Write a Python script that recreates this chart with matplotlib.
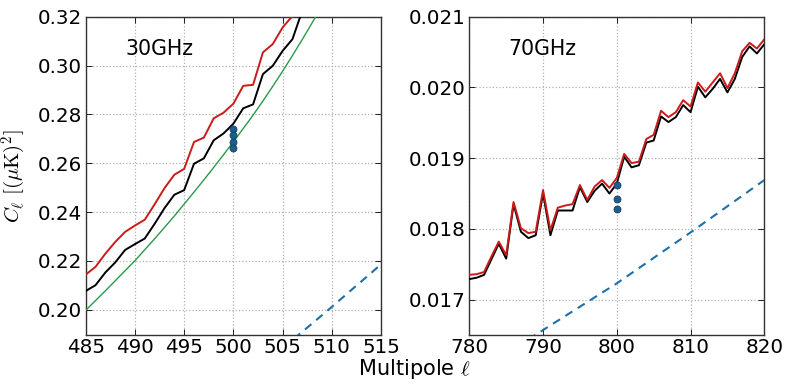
import matplotlib
matplotlib.use("Agg")
import matplotlib.pyplot as plt

# ---- data: 30 GHz panel ----
ell_30 = [485, 486, 487, 488, 489, 490, 491, 492, 493, 494, 495, 496, 497, 498,
          499, 500, 501, 502, 503, 504, 505, 506, 507, 508]
red_30 = [0.2144, 0.2176, 0.2230, 0.2278, 0.2319, 0.2345, 0.2369, 0.2432, 0.2498,
          0.2553, 0.2577, 0.2687, 0.2705, 0.2784, 0.2807, 0.2844, 0.2917, 0.2921,
          0.3054, 0.3088, 0.3156, 0.3203, 0.3260, 0.3300]
black_30 = [0.2077, 0.2101, 0.2153, 0.2194, 0.2245, 0.2269, 0.2292, 0.2352, 0.2416,
            0.2471, 0.2490, 0.2598, 0.2620, 0.2694, 0.2722, 0.2762, 0.2825, 0.2841,
            0.2965, 0.2999, 0.3060, 0.3108, 0.3225, 0.3300]
ell_30_theory = [485, 486, 487, 488, 489, 490, 491, 492, 493, 494, 495, 496, 497,
                 498, 499, 500, 501, 502, 503, 504, 505, 506, 507, 508, 509]
green_30 = [0.1998, 0.2038, 0.2078, 0.2119, 0.2160, 0.2201, 0.2246, 0.2291, 0.2337,
            0.2384, 0.2433, 0.2482, 0.2532, 0.2583, 0.2635, 0.2688, 0.2742, 0.2797,
            0.2855, 0.2915, 0.2977, 0.3041, 0.3107, 0.3175, 0.3245]
ell_30_dash = [505, 506, 508, 510, 512, 514, 515]
dash_30 = [0.1843, 0.1877, 0.1944, 0.2012, 0.2082, 0.2151, 0.2187]
dots_30_ell = [500, 500, 500, 500]
dots_30 = [0.2739, 0.2716, 0.2688, 0.2661]

# ---- data: 70 GHz panel ----
ell_70 = list(range(780, 821))
red_70 = [0.01735, 0.01736, 0.01739, 0.01761, 0.01782, 0.01763, 0.01838, 0.01801,
          0.01794, 0.01796, 0.01855, 0.01798, 0.01830, 0.01833, 0.01835, 0.01862,
          0.01841, 0.01860, 0.01869, 0.01858, 0.01872, 0.01906, 0.01893, 0.01895,
          0.01927, 0.01933, 0.01967, 0.01958, 0.01965, 0.01982, 0.01973, 0.02007,
          0.01994, 0.02007, 0.02020, 0.01999, 0.02020, 0.02051, 0.02063, 0.02055,
          0.02068]
black_70 = [0.01729, 0.01731, 0.01735, 0.01757, 0.01779, 0.01758, 0.01835, 0.01796,
            0.01787, 0.01791, 0.01850, 0.01791, 0.01826, 0.01826, 0.01826, 0.01859,
            0.01838, 0.01854, 0.01864, 0.01850, 0.01864, 0.01902, 0.01887, 0.01890,
            0.01922, 0.01925, 0.01959, 0.01951, 0.01958, 0.01975, 0.01965, 0.02001,
            0.01986, 0.01998, 0.02012, 0.01993, 0.02012, 0.02043, 0.02058, 0.02048,
            0.02061]
ell_70_dash = [788, 790, 795, 800, 805, 810, 815, 820]
dash_70 = [0.01644, 0.01657, 0.01690, 0.01723, 0.01759, 0.01795, 0.01832, 0.01869]
dots_70_ell = [800, 800, 800]
dots_70 = [0.01862, 0.01842, 0.01828]

xticks_30 = [485, 490, 495, 500, 505, 510, 515]
yticks_30 = [0.20, 0.22, 0.24, 0.26, 0.28, 0.30, 0.32]
xticks_70 = [780, 790, 800, 810, 820]
yticks_70 = [0.017, 0.018, 0.019, 0.020, 0.021]

RED = "#cc1a1a"
GREEN = "#2a9a4a"
BLUE = "#1f6fa8"
DOT = "#1c5e8e"

plt.rcParams["font.family"] = ["DejaVu Sans"]
plt.rcParams["mathtext.fontset"] = "cm"

fig = plt.figure(figsize=(7.89, 3.88), dpi=100)
ax1 = fig.add_axes([0.1086, 0.1366, 0.3744, 0.8204])
ax2 = fig.add_axes([0.5948, 0.1366, 0.3739, 0.8204])


def style(ax, xt, yt, fmt):
    ax.grid(True, linestyle=":", color="#b0b0b0", linewidth=0.9)
    ax.set_axisbelow(True)
    ax.tick_params(direction="in", top=True, right=True, length=4, width=0.6,
                   labelsize=14.3, pad=2.5, colors="black")
    ax.set_xticks(xt)
    ax.set_yticks(yt)
    ax.set_yticklabels([fmt.format(v) for v in yt])
    for s in ax.spines.values():
        s.set_linewidth(1.0)
        s.set_color("#333333")


ax1.plot(ell_30_theory, green_30, color=GREEN, lw=1.0, zorder=3)
ax1.plot(ell_30, red_30, color=RED, lw=1.4, zorder=4)
ax1.plot(ell_30, black_30, color="black", lw=1.4, zorder=4)
ax1.plot(ell_30_dash, dash_30, color=BLUE, lw=1.5, ls=(0, (4, 3)), zorder=3)
ax1.plot(dots_30_ell, dots_30, ls="none", marker="o", ms=5, mfc=DOT,
         mec="#123f60", mew=0.6, zorder=5)
ax1.set_xlim(485, 515)
ax1.set_ylim(0.1897, 0.32)
style(ax1, xticks_30, yticks_30, "{:.2f}")
ax1.text(489.0, 0.3043, "30GHz", fontsize=14.8, va="baseline", ha="left")
ax1.set_ylabel(r"$C_\ell\ [(\mu{\rm K})^2]$", fontsize=15, labelpad=7)

ax2.plot(ell_70, red_70, color=RED, lw=1.4, zorder=4)
ax2.plot(ell_70, black_70, color="black", lw=1.4, zorder=3.9)
ax2.plot(ell_70_dash, dash_70, color=BLUE, lw=1.5, ls=(0, (4, 3)), zorder=3)
ax2.plot(dots_70_ell, dots_70, ls="none", marker="o", ms=5, mfc=DOT,
         mec="#123f60", mew=0.6, zorder=5)
ax2.set_xlim(780, 820)
ax2.set_ylim(0.0165, 0.021)
style(ax2, xticks_70, yticks_70, "{:.3f}")
ax2.text(785.3, 0.020458, "70GHz", fontsize=14.8, va="baseline", ha="left")

fig.text(0.525, 0.049, r"Multipole $\ell$", fontsize=15, ha="center", va="center")

fig.savefig("out.png", dpi=100)
